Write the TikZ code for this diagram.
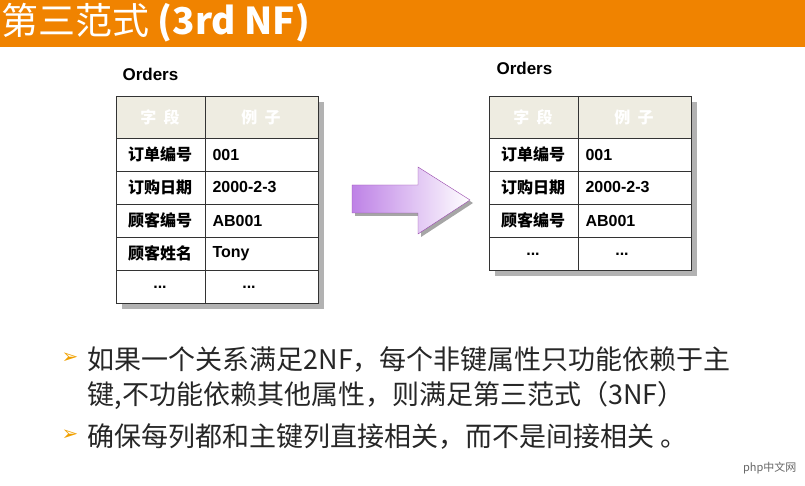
\documentclass[tikz,border=0pt]{standalone}
\usepackage{fontspec}
\setmainfont{Liberation Sans}
\newfontfamily\cjk{Noto Sans CJK SC}
\newfontfamily\dv{DejaVu Sans}
\definecolor{bar}{RGB}{240,131,0}
\definecolor{hdr}{RGB}{238,236,225}
\definecolor{purp}{RGB}{190,130,230}
\definecolor{purpd}{RGB}{150,70,170}
\definecolor{bulc}{RGB}{240,160,0}
\begin{document}
\begin{tikzpicture}[x=1pt,y=-1pt,
  cell/.style={font=\bfseries\fontsize{16}{18}\selectfont},
  ccell/.style={font=\cjk\bfseries\fontsize{16}{18}\selectfont},
  hcell/.style={font=\cjk\bfseries\fontsize{16}{18}\selectfont,text=white},
  bul/.style={font=\cjk\fontsize{27}{30}\selectfont,anchor=west,text=black!85},
  bulmark/.style={font=\dv\fontsize{20}{22}\selectfont,text=bulc}]
\useasboundingbox (0,0) rectangle (805,486);
\fill[bar] (0,0) rectangle (805,47);
\node[anchor=west,text=white,font=\cjk\fontsize{37}{40}\selectfont] (title) at (-2,23) {第三范式 \textbf{(3rd NF)}};
% left table
\fill[black!30] (122,102) rectangle (324,309);
\fill[white] (116,96) rectangle (318,303);
\fill[hdr] (116,96) rectangle (318,138);
\draw[black!80] (116,96) rectangle (318,303);
\foreach \y in {138,171,204,237,270} \draw[black!80] (116,\y) -- (318,\y);
\draw[black!80] (205,96) -- (205,303);
\node[font=\bfseries\fontsize{17}{19}\selectfont,anchor=west] (o1) at (119,74) {Orders};
\node[hcell] (h1) at (160,117) {字\ \ 段};
\node[hcell] (h2) at (261,117) {例\ \ 子};
\foreach \t/\v [count=\i] in {订单编号/001,订购日期/2000-2-3,顾客编号/AB001,顾客姓名/Tony}{
  \node[ccell] (l\i) at (160,121.5+33*\i) {\t};
  \node[cell,anchor=west] (r\i) at (209,121.5+33*\i) {\v};}
\node[cell] (ld1) at (160,287) {...};
\node[cell] (ld2) at (249,287) {...};
% right table
\fill[black!30] (495,102) rectangle (697,276);
\fill[white] (489,96) rectangle (691,270);
\fill[hdr] (489,96) rectangle (691,138);
\draw[black!80] (489,96) rectangle (691,270);
\foreach \y in {138,171,204,237} \draw[black!80] (489,\y) -- (691,\y);
\draw[black!80] (578,96) -- (578,270);
\node[font=\bfseries\fontsize{17}{19}\selectfont,anchor=west] (o2) at (493,68) {Orders};
\node[hcell] (h3) at (533,117) {字\ \ 段};
\node[hcell] (h4) at (634,117) {例\ \ 子};
\foreach \t/\v [count=\i] in {订单编号/001,订购日期/2000-2-3,顾客编号/AB001}{
  \node[ccell] (m\i) at (533,121.5+33*\i) {\t};
  \node[cell,anchor=west] (n\i) at (582,121.5+33*\i) {\v};}
\node[cell] (rd1) at (533,254) {...};
\node[cell] (rd2) at (622,254) {...};
% arrow
\fill[black!35] (355,188) -- (421,188) -- (421,170) -- (473,203) -- (421,237) -- (421,216) -- (355,216) -- cycle;
\shade[left color=purp,right color=white]
 (352,185) -- (418,185) -- (418,167) -- (470,200) -- (418,234) -- (418,213) -- (352,213) -- cycle;
\draw[purpd] (352,185) -- (418,185) -- (418,167) -- (470,200) -- (418,234) -- (418,213) -- (352,213) -- cycle;
% bullets
\node[bul] (b1) at (84,360) {如果一个关系满足2NF，每个非键属性只功能依赖于主};
\node[bul] (b1b) at (84,396) {键,不功能依赖其他属性，则满足第三范式（3NF）};
\node[bul] (b2) at (84,437) {确保每列都和主键列直接相关，而不是间接相关 。};
\node[bulmark] (k1) at (70,358) {➢};
\node[bulmark] (k2) at (70,435) {➢};
\node[font=\cjk\fontsize{11}{12}\selectfont,text=black!60,anchor=east] (wm) at (800,468) {php中文网};
\end{tikzpicture}
\end{document}
